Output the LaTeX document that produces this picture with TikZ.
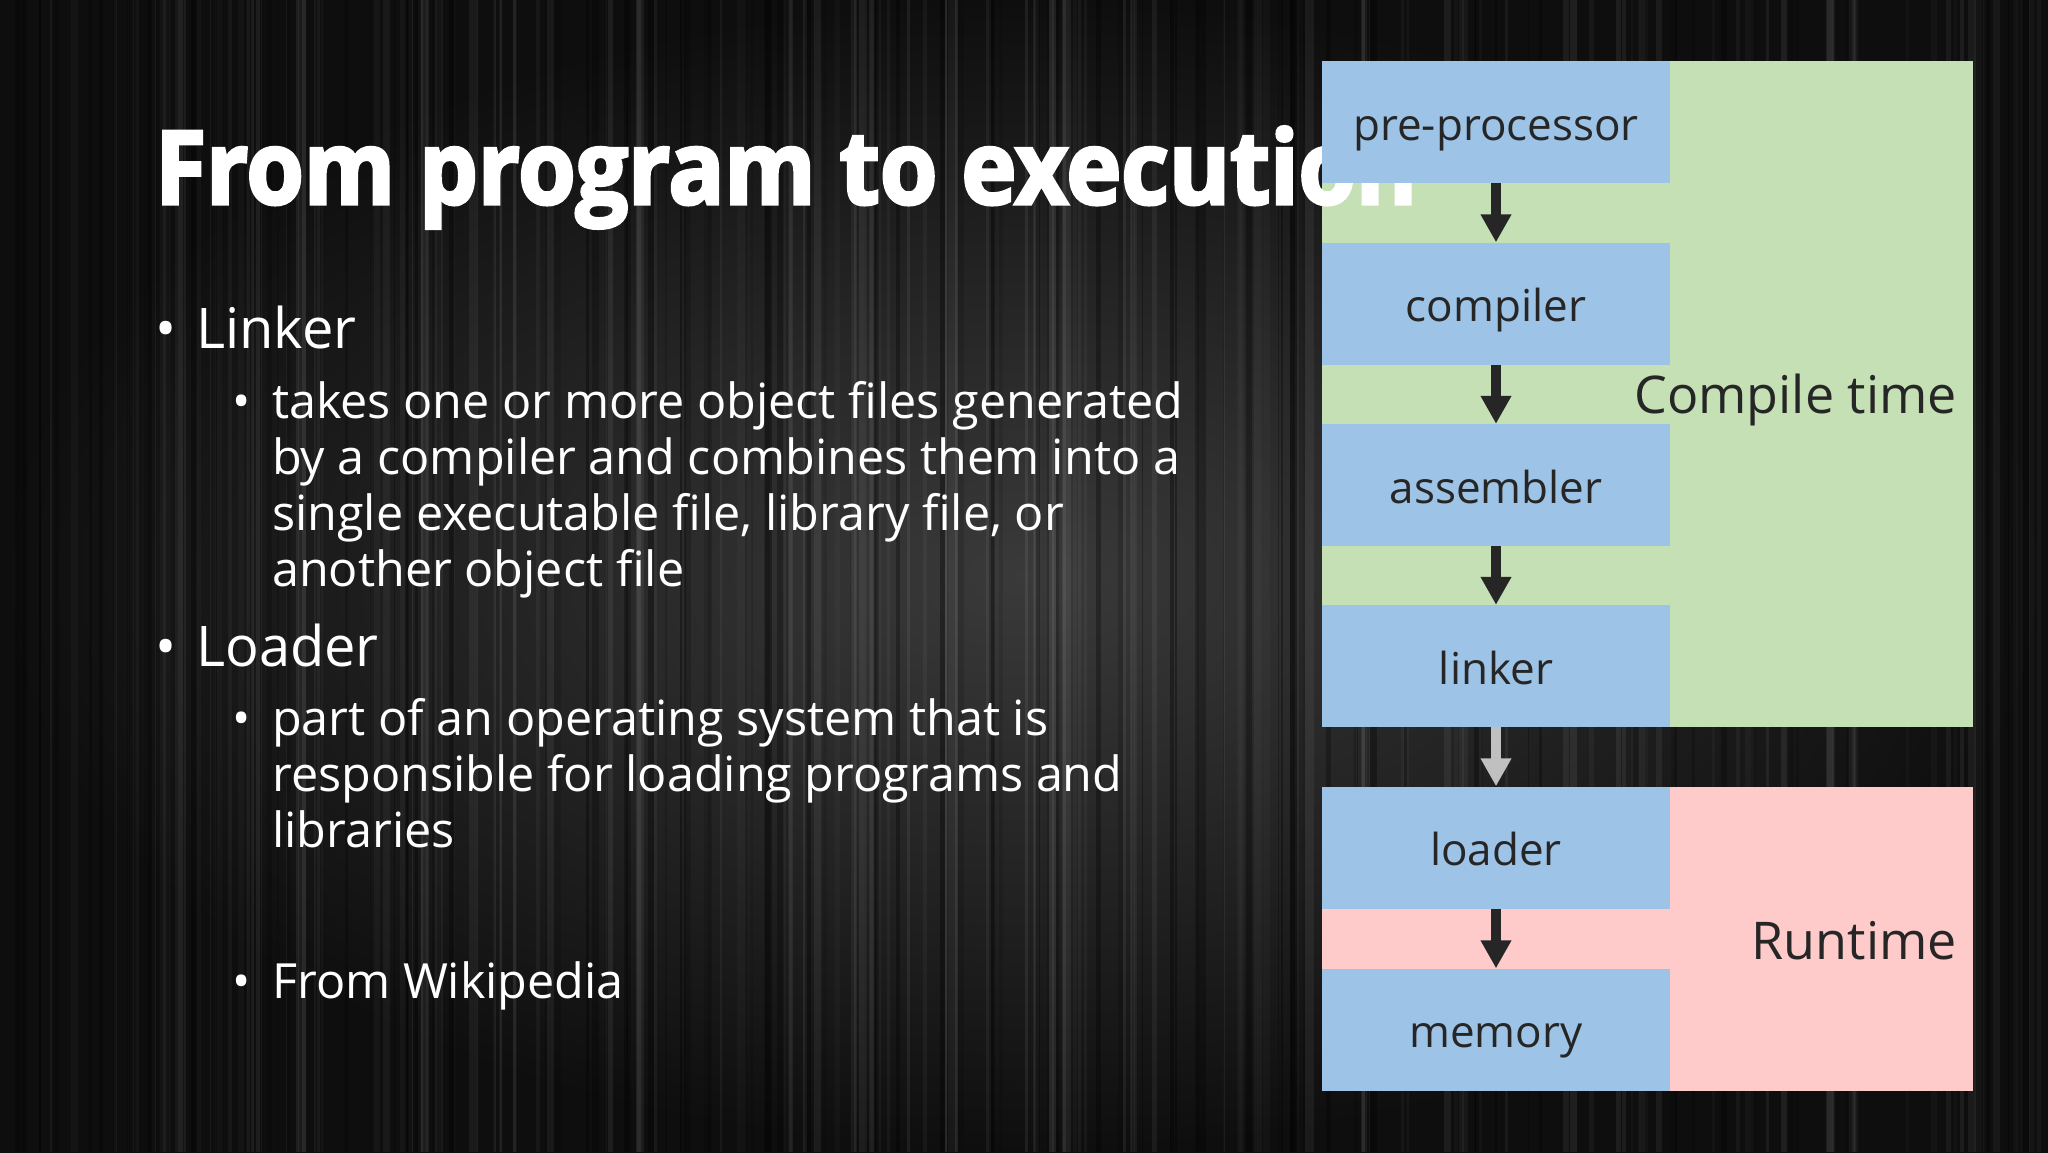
\documentclass[tikz,border=0pt]{standalone}
\usepackage{fontspec}
\setmainfont{Open Sans}
\newfontfamily\titlefont{Open Sans}[FakeStretch=0.91,BoldFeatures={FakeBold=3}]
\usetikzlibrary{arrows.meta}
\definecolor{boxblue}{HTML}{9DC3E6}
\definecolor{boxgreen}{HTML}{C5E0B4}
\definecolor{boxpink}{HTML}{FFCACA}
\definecolor{labelgray}{HTML}{262626}
\definecolor{arrowdark}{HTML}{262626}
\definecolor{arrowlight}{HTML}{C0C0C0}
\definecolor{bgin}{HTML}{3A3A3A}
\definecolor{bgout}{HTML}{0E0E0E}
\tikzset{
  stage/.style={rectangle, fill=boxblue, minimum width=348pt, minimum height=122pt,
    inner sep=0pt, text=labelgray, font=\fontsize{44}{50}\selectfont,
    text height=46pt, text depth=10pt},
  region/.style={rectangle, inner sep=0pt, anchor=north west, minimum width=651pt},
  phase/.style={anchor=base east, inner sep=0pt, text=labelgray, font=\fontsize{52}{60}\selectfont},
  flow/.style={draw=arrowdark, line width=10pt, -{Triangle[width=29pt,length=28pt]}},
  flowlight/.style={flow, draw=arrowlight},
  bulA/.style={anchor=base, inner sep=0pt, text=white, font=\fontsize{56}{66}\selectfont},
  bulB/.style={anchor=base, inner sep=0pt, text=white, font=\fontsize{48.5}{56}\selectfont},
  lvlA/.style={anchor=base west, inner sep=0pt, text=white, font=\fontsize{56}{66}\selectfont},
  lvlB/.style={anchor=base west, inner sep=0pt, text=white, font=\fontsize{48.5}{56}\selectfont},
  headline/.style={anchor=base west, inner sep=0pt, text=white, font=\titlefont\bfseries\fontsize{102}{120}\selectfont}
}
\begin{document}
\begin{tikzpicture}[x=1pt,y=-1pt]
\useasboundingbox (0,0) rectangle (2048,1152);
% background
\shade[inner color=bgin, outer color=bgout] (0,0) rectangle (2048,1152);
\pgfmathsetseed{42}
\foreach \i in {1,...,140}{
  \pgfmathsetmacro{\xa}{rnd*2048}
  \pgfmathsetmacro{\wd}{1+rnd*8}
  \pgfmathsetmacro{\op}{0.02+0.05*rnd}
  \fill[white, opacity=\op] (\xa,0) rectangle ++(\wd,1152);
}
\foreach \i in {1,...,110}{
  \pgfmathsetmacro{\xa}{rnd*2048}
  \pgfmathsetmacro{\wd}{1+rnd*6}
  \pgfmathsetmacro{\op}{0.10+0.25*rnd}
  \fill[black, opacity=\op] (\xa,0) rectangle ++(\wd,1152);
}
% phase regions
\node[region, fill=boxgreen, minimum height=666pt] (ctbg) at (1322,61) {};
\node[region, fill=boxpink, minimum height=304pt] (rtbg) at (1322,786.5) {};
% title (between regions and stages)
\node[headline] (title) at (155,204) {From program to execution};
% stages
\node[stage] (pre) at (1496,122) {pre-processor};
\node[stage] (comp) at (1496,303.5) {compiler};
\node[stage] (asm) at (1496,485) {assembler};
\node[stage] (link) at (1496,666) {linker};
\node[stage] (load) at (1496,847.5) {loader};
\node[stage] (mem) at (1496,1029.5) {memory};
\draw[flow] (pre.south) -- (comp.north);
\draw[flow] (comp.south) -- (asm.north);
\draw[flow] (asm.south) -- (link.north);
\draw[flowlight] (link.south) -- (load.north);
\draw[flow] (load.south) -- (mem.north);
\node[phase] (ctl) at (1957,413) {Compile time};
\node[phase] (rtl) at (1957,959) {Runtime};
% body text
\node[bulA] (b1) at (166,348) {•};
\node[lvlA] (t1) at (196,348) {Linker};
\node[bulB] (b2) at (242,418) {•};
\node[lvlB] (t2) at (272,418) {\parbox[t]{1000pt}{takes one or more object files generated\\by a compiler and combines them into a\\single executable file, library file, or\\another object file}};
\node[bulA] (b3) at (166,666) {•};
\node[lvlA] (t3) at (196,666) {Loader};
\node[bulB] (b4) at (242,735) {•};
\node[lvlB] (t4) at (272,735) {\parbox[t]{1000pt}{part of an operating system that is\\responsible for loading programs and\\libraries}};
\node[bulB] (b5) at (242,998) {•};
\node[lvlB] (t5) at (272,998) {From Wikipedia};
\end{tikzpicture}
\end{document}
